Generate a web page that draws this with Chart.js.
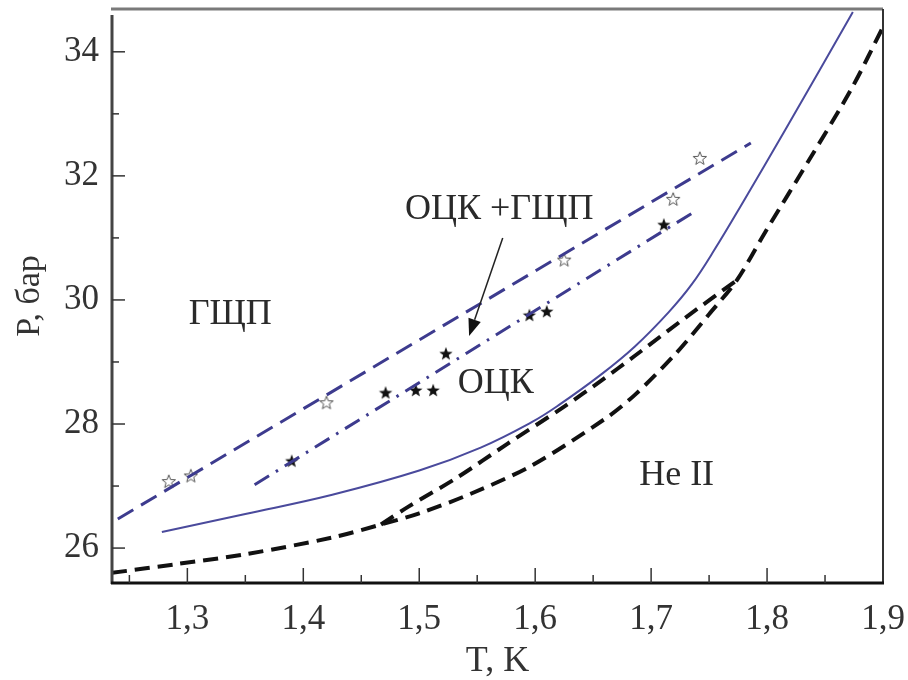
<!DOCTYPE html>
<html>
<head>
<meta charset="utf-8">
<script src="https://cdn.jsdelivr.net/npm/chart.js@4.4.1/dist/chart.umd.min.js"></script>
<style>
  html, body { margin: 0; padding: 0; background: #fff; }
  #wrap { width: 908px; height: 680px; }
</style>
</head>
<body>
<div id="wrap"><canvas id="phaseChart"></canvas></div>
<script>
// P–T data
var solidT = [1.278, 1.35, 1.425, 1.50, 1.553, 1.597, 1.62, 1.657, 1.686, 1.715, 1.735, 1.755, 1.78, 1.816, 1.874];
var solidP = [26.26, 26.55, 26.86, 27.25, 27.62, 28.03, 28.30, 28.80, 29.25, 29.80, 30.25, 30.82, 31.60, 32.75, 34.64];

var lowerDashT = [1.235, 1.29, 1.35, 1.425, 1.467, 1.50, 1.545, 1.597, 1.66, 1.686, 1.721, 1.75, 1.774, 1.798, 1.839, 1.873, 1.90];
var lowerDashP = [25.60, 25.74, 25.90, 26.17, 26.38, 26.56, 26.88, 27.33, 28.08, 28.47, 29.13, 29.77, 30.32, 31.08, 32.34, 33.41, 34.40];

var upperDashT = [1.467, 1.49, 1.533, 1.576, 1.625, 1.657, 1.686, 1.73, 1.774];
var upperDashP = [26.38, 26.66, 27.14, 27.68, 28.28, 28.70, 29.10, 29.72, 30.32];

var hcpLineT = [1.24, 1.786];
var hcpLineP = [26.47, 32.53];

var bccLineT = [1.358, 1.738];
var bccLineP = [27.02, 31.43];

var openStarT = [1.284, 1.303, 1.42, 1.625, 1.719, 1.742];
var openStarP = [27.08, 27.17, 28.35, 30.65, 31.63, 32.29];

var fullStarT = [1.39, 1.471, 1.497, 1.512, 1.523, 1.595, 1.61, 1.711];
var fullStarP = [27.41, 28.51, 28.55, 28.55, 29.14, 29.76, 29.82, 31.22];

var xMajor = [1.3, 1.4, 1.5, 1.6, 1.7, 1.8, 1.9];
var xMinor = [1.25, 1.35, 1.45, 1.55, 1.65, 1.75, 1.85];
var yMajor = [26, 28, 30, 32, 34];
var yMinor = [27, 29, 31, 33];

var regionText = ['ГЩП', 'ОЦК +ГЩП', 'ОЦК', 'He II'];
var regionT = [1.337, 1.569, 1.566, 1.722];
var regionP = [29.76, 31.46, 28.65, 27.17];

// arrow from the "ОЦК +ГЩП" label down to the coexistence band
var arrowT = [1.572, 1.543];
var arrowP = [31.0, 29.42];

function pts(xs, ys) {
  return xs.map(function (x, i) { return { x: x, y: ys[i] }; });
}

var serif = 'Liberation Serif';
var blue = '#3d3b8e';
var black = '#111111';

// five-pointed star as a point image
function makeStar(size, fill, stroke) {
  var c = document.createElement('canvas');
  c.width = size; c.height = size;
  var g = c.getContext('2d');
  var cx = size / 2, cy = size / 2 + 0.8, R = size / 2 - 1, r = R * 0.42;
  g.beginPath();
  for (var i = 0; i < 10; i++) {
    var a = -Math.PI / 2 + i * Math.PI / 5;
    var rr = i % 2 === 0 ? R : r;
    g.lineTo(cx + rr * Math.cos(a), cy + rr * Math.sin(a));
  }
  g.closePath();
  if (fill) { g.fillStyle = fill; g.fill(); }
  if (stroke) { g.strokeStyle = stroke; g.lineWidth = 1; g.stroke(); }
  return c;
}

var openStar = makeStar(16, null, '#555555');
var fullStar = makeStar(16, '#111111', null);

var decorations = {
  id: 'decorations',
  afterDatasetsDraw: function (chart) {
    var ctx = chart.ctx;
    var xs = chart.scales.x, ys = chart.scales.y;
    var a = chart.chartArea;
    ctx.save();

    // frame
    ctx.lineCap = 'butt';
    ctx.strokeStyle = '#7a7a7a'; ctx.lineWidth = 3;
    ctx.beginPath(); ctx.moveTo(a.left - 1, a.top); ctx.lineTo(a.right, a.top); ctx.stroke();
    ctx.strokeStyle = '#333'; ctx.lineWidth = 2;
    ctx.beginPath(); ctx.moveTo(a.right, a.top); ctx.lineTo(a.right, a.bottom); ctx.stroke();
    ctx.strokeStyle = '#444'; ctx.lineWidth = 3;
    ctx.beginPath(); ctx.moveTo(a.left, a.top + 6); ctx.lineTo(a.left, a.bottom + 1); ctx.stroke();
    ctx.strokeStyle = '#111'; ctx.lineWidth = 3;
    ctx.beginPath(); ctx.moveTo(a.left - 1, a.bottom); ctx.lineTo(a.right + 1, a.bottom); ctx.stroke();

    // inward ticks
    ctx.strokeStyle = '#333'; ctx.lineWidth = 1.5;
    function xTick(v, len) {
      var px = xs.getPixelForValue(v);
      ctx.beginPath(); ctx.moveTo(px, a.bottom); ctx.lineTo(px, a.bottom - len); ctx.stroke();
    }
    function yTick(v, len) {
      var py = ys.getPixelForValue(v);
      ctx.beginPath(); ctx.moveTo(a.left, py); ctx.lineTo(a.left + len, py); ctx.stroke();
    }
    xMajor.forEach(function (v) { if (v < 1.9) xTick(v, 15); });
    xMinor.forEach(function (v) { xTick(v, 8); });
    yMajor.forEach(function (v) { yTick(v, 13); });
    yMinor.forEach(function (v) { yTick(v, 7); });

    // arrow
    var x0 = xs.getPixelForValue(arrowT[0]), y0 = ys.getPixelForValue(arrowP[0]);
    var x1 = xs.getPixelForValue(arrowT[1]), y1 = ys.getPixelForValue(arrowP[1]);
    var ang = Math.atan2(y1 - y0, x1 - x0);
    var hl = 17, hw = 6.5;
    var bx = x1 - hl * Math.cos(ang), by = y1 - hl * Math.sin(ang);
    ctx.strokeStyle = '#222'; ctx.lineWidth = 1.5;
    ctx.beginPath(); ctx.moveTo(x0, y0); ctx.lineTo(bx, by); ctx.stroke();
    ctx.fillStyle = '#111';
    ctx.beginPath();
    ctx.moveTo(x1, y1);
    ctx.lineTo(bx + hw * Math.sin(ang), by - hw * Math.cos(ang));
    ctx.lineTo(bx - hw * Math.sin(ang), by + hw * Math.cos(ang));
    ctx.closePath(); ctx.fill();

    // phase region labels
    ctx.fillStyle = '#2a2a2a';
    ctx.font = '36px "' + serif + '"';
    ctx.textAlign = 'center';
    ctx.textBaseline = 'middle';
    regionText.forEach(function (t, i) {
      ctx.fillText(t, xs.getPixelForValue(regionT[i]), ys.getPixelForValue(regionP[i]));
    });
    ctx.restore();
  }
};

new Chart(document.getElementById('phaseChart'), {
  type: 'scatter',
  data: {
    datasets: [
      { // upper boundary, open stars
        data: pts(hcpLineT, hcpLineP), showLine: true, borderColor: blue, borderWidth: 3,
        borderDash: [18, 9], pointRadius: 0
      },
      { // lower boundary, dash-dot
        data: pts(bccLineT, bccLineP), showLine: true, borderColor: blue, borderWidth: 3,
        borderDash: [17, 8, 2.5, 8], pointRadius: 0
      },
      {
        data: pts(solidT, solidP), showLine: true, borderColor: '#4a4a9c', borderWidth: 2,
        tension: 0.4, pointRadius: 0
      },
      {
        data: pts(lowerDashT, lowerDashP), showLine: true, borderColor: black, borderWidth: 4,
        borderDash: [15, 8], tension: 0.3, pointRadius: 0
      },
      {
        data: pts(upperDashT, upperDashP), showLine: true, borderColor: black, borderWidth: 4,
        borderDash: [15, 8], tension: 0.3, pointRadius: 0
      },
      {
        data: pts(openStarT, openStarP), showLine: false, pointStyle: openStar, pointRadius: 8
      },
      {
        data: pts(fullStarT, fullStarP), showLine: false, pointStyle: fullStar, pointRadius: 8
      }
    ]
  },
  options: {
    responsive: true,
    maintainAspectRatio: false,
    animation: false,
    layout: { padding: { top: 7, right: 25, left: 0, bottom: 0 } },
    plugins: {
      legend: { display: false },
      tooltip: { enabled: false }
    },
    scales: {
      x: {
        type: 'linear', min: 1.235, max: 1.9,
        afterBuildTicks: function (s) { s.ticks = xMajor.map(function (v) { return { value: v }; }); },
        afterFit: function (s) {
          s.height = 97;
          s.paddingLeft = 0; s.paddingRight = 0;
        },
        grid: { display: false, drawTicks: false },
        border: { display: false },
        ticks: {
          padding: 16, color: '#333', font: { family: serif, size: 35 },
          maxRotation: 0, autoSkip: false,
          callback: function (v) { return v.toFixed(1).replace('.', ','); }
        },
        title: {
          display: true, text: 'T, K', color: '#333',
          font: { family: serif, size: 36, lineHeight: 1 }, padding: 0
        }
      },
      y: {
        type: 'linear', min: 25.437, max: 34.69,
        afterBuildTicks: function (s) { s.ticks = yMajor.map(function (v) { return { value: v }; }); },
        afterFit: function (s) {
          s.width = 112;
          s.paddingTop = 0; s.paddingBottom = 0;
        },
        grid: { display: false, drawTicks: false },
        border: { display: false },
        ticks: {
          padding: 13, color: '#333', font: { family: serif, size: 35 },
          callback: function (v) { return String(v); }
        },
        title: {
          display: true, text: 'P, бар', color: '#333',
          font: { family: serif, size: 34, lineHeight: 1 }, padding: { top: 13, bottom: 0 }
        }
      }
    }
  },
  plugins: [decorations]
});
</script>
</body>
</html>
